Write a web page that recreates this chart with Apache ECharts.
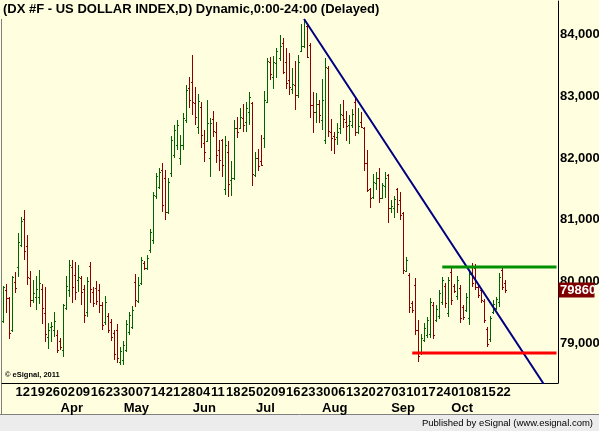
<!DOCTYPE html>
<html>
<head>
<meta charset="utf-8">
<script src="https://cdn.jsdelivr.net/npm/echarts@6/dist/echarts.min.js"></script>
<style>
  html, body { margin: 0; padding: 0; background: #ffffe0; }
  #chart { width: 599px; height: 431px; }
</style>
</head>
<body>
<div id="chart"></div>
<script>
// DX #F daily bars, 6 Mar 2012 .. 25 Oct 2012 (weekdays)
const title = '(DX #F - US DOLLAR INDEX,D) Dynamic,0:00-24:00 (Delayed)';
const firstDay = Date.UTC(2012, 2, 6);
const padDays = 17; // empty space on the right of the last bar

const open = [
  79364, 79866, 79736, 79219, 79995, 80238, 80594, 81015, 80578, 80060,
  79704, 79753, 79753, 79882, 79494, 79105, 79267, 79219, 79138, 79041,
  78895, 79575, 79866, 80238, 80108, 80028, 80060, 79882, 79510, 80254,
  79833, 79898, 79866, 79623, 79348, 79445, 79348, 79170, 79219, 78701,
  78733, 78895, 79186, 79267, 79995, 79688, 79979, 80303, 80222, 80513,
  80675, 81387, 81532, 81807, 81678, 81128, 81759, 82050, 82212, 81999,
  82212, 82616, 83134, 83231, 82891, 82503, 82827, 82244, 82276, 82002,
  82633, 82422, 82131, 82293, 81500, 82099, 81646, 81678, 82487, 82487,
  82649, 82584, 82746, 82891, 81726, 82002, 81953, 82325, 82908, 83555,
  83312, 83539, 83620, 83862, 83555, 83264, 83118, 83183, 83021, 83733,
  83814, 84137, 83830, 82859, 82746, 82875, 82616, 82293, 83458, 82422,
  82358, 82341, 82487, 82697, 82584, 82535, 82535, 82908, 82422, 82584,
  82487, 81921, 81500, 81371, 81597, 81678, 81354, 81549, 81726, 81193,
  81193, 81500, 81322, 81111, 80173, 80108, 79655, 79947, 79219, 78846,
  79057, 79138, 79154, 79623, 79380, 79445, 79672, 79931, 79494, 80157,
  79931, 79769, 79898, 79591, 79542, 79413, 80254, 80222, 79914, 79866,
  79688, 79235, 79073, 79510, 79575, 79672, 80189, 79979
];
const high = [
  79931, 79963, 79753, 80092, 80157, 80788, 81047, 81160, 80756, 80173,
  80028, 80092, 80189, 79963, 79914, 79332, 79348, 79510, 79219, 79089,
  79639, 80092, 80351, 80351, 80319, 80270, 80092, 79947, 80076, 80319,
  79914, 80011, 79963, 79672, 79769, 79494, 79397, 79219, 79316, 78944,
  79041, 79380, 79510, 79607, 80125, 80076, 80400, 80335, 80432, 80853,
  81451, 81759, 81840, 81921, 81807, 81678, 82358, 82535, 82616, 82374,
  82730, 83183, 83312, 83668, 83150, 83037, 82908, 82455, 82940, 82649,
  82762, 82584, 82293, 82309, 82358, 82277, 81953, 82616, 82665, 82811,
  82875, 82908, 83069, 82908, 82099, 82147, 82374, 83086, 83620, 83636,
  83652, 83781, 83992, 83943, 83781, 83700, 83458, 83571, 83668, 84170,
  84251, 84186, 83862, 83069, 83053, 82940, 83278, 83620, 83490, 82633,
  82422, 82568, 82875, 82940, 82762, 82697, 82795, 82989, 82811, 82746,
  82503, 82131, 81516, 81743, 81775, 81840, 81597, 81775, 81743, 81322,
  81387, 81516, 81451, 81128, 80400, 80141, 79688, 80060, 79380, 79154,
  79332, 79429, 79736, 79672, 79623, 79866, 80076, 79979, 80076, 80238,
  79963, 80092, 79947, 79623, 79817, 80189, 80303, 80286, 79947, 79898,
  79720, 79267, 79445, 79704, 79753, 80141, 80238, 80028
];
const low = [
  79332, 79494, 79073, 79186, 79817, 80076, 80562, 80351, 79947, 79591,
  79655, 79542, 79639, 79316, 79024, 78911, 79024, 79105, 78846, 78895,
  78782, 79542, 79753, 79655, 79704, 79833, 79623, 79332, 79429, 79655,
  79591, 79623, 79494, 79219, 79299, 79170, 79041, 78733, 78685, 78652,
  78652, 78863, 79138, 79235, 79591, 79655, 79947, 80189, 80189, 80464,
  80610, 81338, 81500, 81128, 80998, 81095, 81694, 82002, 82131, 81888,
  82131, 82568, 82811, 82697, 82535, 82390, 82163, 81937, 82260, 81694,
  82341, 81921, 81791, 81694, 81403, 81371, 81387, 81646, 82325, 82470,
  82422, 82422, 82535, 81549, 81694, 81791, 81872, 82163, 82891, 83264,
  83118, 83296, 83571, 83361, 83118, 83021, 83037, 82778, 82972, 83717,
  83781, 83620, 82649, 82406, 82568, 82568, 82455, 82228, 82341, 82115,
  82066, 82212, 82390, 82487, 82277, 82228, 82487, 82358, 82390, 82487,
  81791, 81451, 81193, 81338, 81484, 81273, 81338, 81354, 80950, 81111,
  81031, 81111, 80998, 80125, 80157, 79494, 79494, 79138, 78701, 78814,
  79024, 79089, 79089, 79073, 79348, 79397, 79623, 79575, 79429, 79623,
  79817, 79704, 79332, 79380, 79510, 79299, 79914, 79866, 79736, 79655,
  79332, 78944, 79024, 79478, 79542, 79591, 79866, 79817
];
const close = [
  79914, 79736, 79170, 80076, 79898, 80642, 80982, 80497, 80076, 79704,
  79817, 79882, 79979, 79575, 79154, 79219, 79283, 79364, 78895, 78944,
  79623, 79931, 80270, 79914, 79833, 80076, 79833, 79461, 80011, 79882,
  79655, 79688, 79623, 79299, 79672, 79219, 79105, 78830, 78766, 78879,
  78976, 79316, 79461, 79542, 79704, 79947, 80351, 80222, 80384, 80804,
  81403, 81710, 81775, 81241, 81128, 81613, 82293, 82455, 82535, 82212,
  82649, 83102, 82940, 82908, 82665, 82924, 82374, 82099, 82568, 82568,
  82438, 82050, 81969, 81888, 82212, 81581, 81678, 82487, 82422, 82665,
  82535, 82811, 82989, 81743, 82002, 81872, 81888, 82940, 83571, 83361,
  83555, 83733, 83814, 83393, 83215, 83150, 83199, 83021, 83555, 83814,
  84218, 83636, 82859, 82746, 82875, 82697, 82940, 83474, 82438, 82325,
  82309, 82422, 82714, 82633, 82519, 82600, 82714, 82422, 82519, 82503,
  81921, 81484, 81354, 81613, 81678, 81354, 81565, 81678, 81193, 81225,
  81338, 81257, 81079, 80189, 80351, 79591, 79542, 79219, 78798, 79089,
  79251, 79380, 79672, 79138, 79558, 79817, 80028, 79655, 80028, 79704,
  79850, 80028, 79413, 79429, 79753, 80125, 79979, 79914, 79785, 79704,
  79380, 78992, 79413, 79639, 79720, 80076, 79914, 79860
];

const yTicks = [79000, 80000, 81000, 82000, 83000, 84000];
const monthNames = ['Jan', 'Feb', 'Mar', 'Apr', 'May', 'Jun', 'Jul', 'Aug', 'Sep', 'Oct', 'Nov', 'Dec'];

// drawn lines: [bar index, price]
const trendLine = [[100, 84250], [184, 78030]];
const resistance = [[146, 80238], [184, 80238]];
const support = [[136, 78846], [184, 78846]];

const upColor = '#006400';
const downColor = '#8c0000';
const font = '"Liberation Sans", Arial, sans-serif';

// weekday calendar
const dates = [];
for (let t = firstDay; dates.length < close.length + padDays; t += 86400000) {
  const d = new Date(t);
  if (d.getUTCDay() !== 0 && d.getUTCDay() !== 6) dates.push(d);
}
const cats = dates.map(d => d.toISOString().slice(0, 10));
const isWeekStart = i => i < close.length && dates[i].getUTCDay() === 1;
const isMonthStart = i => i > 0 && i < close.length && dates[i].getUTCMonth() !== dates[i - 1].getUTCMonth();

const bars = close.map((c, i) => [i, open[i], high[i], low[i], c]);

function renderBar(params, api) {
  const i = api.value(0);
  const top = api.coord([i, api.value(2)]);
  const bot = api.coord([i, api.value(3)]);
  const oy = Math.round(api.coord([i, api.value(1)])[1]);
  const cy = Math.round(api.coord([i, api.value(4)])[1]);
  const x = Math.floor(top[0]);
  const y1 = Math.round(top[1]);
  const y2 = Math.round(bot[1]);
  const style = { fill: api.value(4) >= api.value(1) ? upColor : downColor };
  return {
    type: 'group',
    children: [
      { type: 'rect', shape: { x: x, y: y1, width: 1, height: Math.max(1, y2 - y1) }, style: style },
      { type: 'rect', shape: { x: x - 1, y: oy, width: 1, height: 1 }, style: style },
      { type: 'rect', shape: { x: x + 1, y: cy, width: 1, height: 1 }, style: style }
    ]
  };
}

const chart = echarts.init(document.getElementById('chart'));

chart.setOption({
  backgroundColor: '#ffffe0',
  animation: false,
  grid: { left: 2, right: 41, top: 1, bottom: 48, containLabel: false, outerBoundsMode: 'none' },
  xAxis: [
    {
      type: 'category',
      data: cats,
      boundaryGap: true,
      axisLine: { lineStyle: { color: '#000', width: 1 } },
      axisTick: { interval: (i) => isWeekStart(i), alignWithLabel: true, length: 4, lineStyle: { color: '#000' } },
      axisLabel: {
        interval: (i) => isWeekStart(i),
        formatter: (v) => v.slice(8, 10),
        align: 'left',
        margin: 3,
        color: '#000',
        fontSize: 13,
        fontWeight: 'bold',
        fontFamily: font
      },
      splitLine: { show: false }
    },
    {
      type: 'category',
      data: cats,
      position: 'bottom',
      offset: 16,
      boundaryGap: true,
      axisLine: { show: false },
      axisTick: { show: false },
      axisLabel: {
        interval: (i) => isMonthStart(i),
        formatter: (v) => monthNames[+v.slice(5, 7) - 1],
        align: 'left',
        margin: 3,
        color: '#000',
        fontSize: 13,
        fontWeight: 'bold',
        fontFamily: font
      },
      splitLine: { show: false }
    }
  ],
  yAxis: {
    type: 'value',
    position: 'right',
    min: 78361,
    max: 84542,
    axisLine: { show: true, lineStyle: { color: '#000', width: 1 } },
    axisTick: { show: false },
    splitLine: { show: false },
    axisLabel: {
      customValues: yTicks,
      margin: 2,
      color: '#000',
      fontSize: 13,
      fontWeight: 'bold',
      fontFamily: font
    }
  },
  series: [
    {
      type: 'custom',
      name: 'DX',
      data: bars,
      encode: { x: 0, y: [1, 2, 3, 4] },
      renderItem: renderBar,
      silent: true
    },
    {
      type: 'line',
      data: trendLine,
      showSymbol: false,
      silent: true,
      clip: true,
      lineStyle: { color: '#000080', width: 2 }
    },
    {
      type: 'line',
      data: resistance,
      showSymbol: false,
      silent: true,
      lineStyle: { color: '#009000', width: 3 }
    },
    {
      type: 'line',
      data: support,
      showSymbol: false,
      silent: true,
      lineStyle: { color: '#ff0000', width: 3 }
    }
  ],
  graphic: [
    { id: 'title', type: 'text', left: 3, top: 3, style: { text: title, font: 'bold 13px ' + font, fill: '#000' } },
    { id: 'copy', type: 'text', left: 5, top: 371, style: { text: '\u00a9 eSignal, 2011', font: 'bold 7.5px ' + font, fill: '#000' } },
    { id: 'leftBorder', type: 'line', shape: { x1: 1.5, y1: 19, x2: 1.5, y2: 415 }, style: { stroke: '#808080', lineWidth: 1 } },
    { id: 'band', type: 'rect', shape: { x: 0, y: 415, width: 599, height: 16 }, style: { fill: '#ececec' } },
    { id: 'bandLine', type: 'line', shape: { x1: 0, y1: 414.5, x2: 599, y2: 414.5 }, style: { stroke: '#808080', lineWidth: 1 } },
    { id: 'pub', type: 'text', right: 6, top: 418, style: { text: 'Published by eSignal (www.esignal.com)', font: '9.5px ' + font, fill: '#000' } }
  ]
});

// last price tag on the price axis
const last = close[close.length - 1];
const py = chart.convertToPixel({ yAxisIndex: 0 }, last);
chart.setOption({
  graphic: [
    { id: 'tagBox', type: 'rect', z: 100, shape: { x: 558.5, y: Math.round(py) - 7.5, width: 36, height: 15 }, style: { fill: '#800000' } },
    { id: 'tagText', type: 'text', z: 101, x: 560, y: Math.round(py), style: { text: String(last), font: 'bold 13px ' + font, fill: '#fff', verticalAlign: 'middle' } }
  ]
});
</script>
</body>
</html>
